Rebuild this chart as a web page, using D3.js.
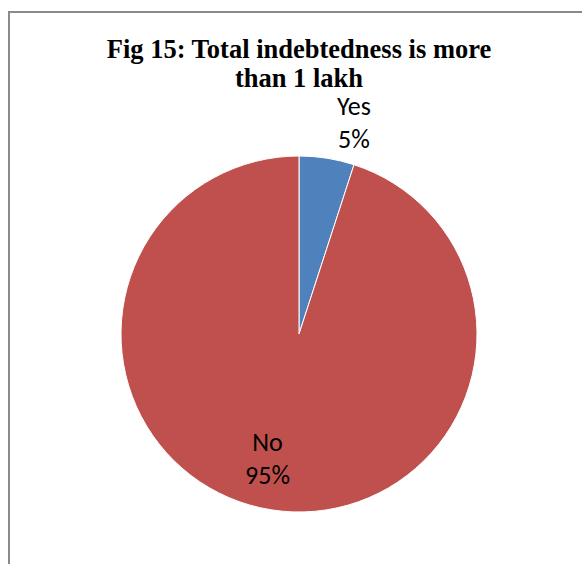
<!DOCTYPE html>
<html>
<head>
<meta charset="utf-8">
<script src="https://cdn.jsdelivr.net/npm/d3@7"></script>
<style>
html,body{margin:0;padding:0;background:#fff;}
svg{display:block;}
</style>
</head>
<body>
<svg id="chart" width="582" height="564"></svg>
<script>
const categories = ["Yes", "No"];
const values = [5, 95];
const percentLabels = ["5%", "95%"];
const colors = ["#4F81BD", "#C0504D"];
const titleLines = ["Fig 15: Total indebtedness is more", "than 1 lakh"];

const svg = d3.select("#chart");
const W = 582, H = 564;

// chart area frame (left and top edges visible)
svg.append("path")
  .attr("d", `M9,${H} L9,12 L${W},12`)
  .attr("fill", "none")
  .attr("stroke", "#8a8a8a")
  .attr("stroke-width", 2);

// title
const title = svg.append("text")
  .attr("text-anchor", "middle")
  .attr("font-family", "'Liberation Serif','Times New Roman',serif")
  .attr("font-weight", "bold")
  .attr("font-size", 26.5)
  .attr("fill", "#000");
titleLines.forEach((t, i) => {
  title.append("tspan").attr("x", 299).attr("y", 58 + i * 29).text(t);
});

const cx = 299, cy = 334, r = 178;
const data = categories.map((c, i) => ({cat: c, value: values[i], pct: percentLabels[i], color: colors[i]}));
const pie = d3.pie().sort(null).value(d => d.value);
const arcs = pie(data);
const arc = d3.arc().innerRadius(0).outerRadius(r);

const g = svg.append("g").attr("transform", `translate(${cx},${cy})`);
g.selectAll("path.slice")
  .data(arcs)
  .enter().append("path")
  .attr("class", "slice")
  .attr("d", arc)
  .attr("fill", d => d.data.color)
  .attr("stroke", "#fff")
  .attr("stroke-width", 1);

// label anchors
function labelPos(a, i) {
  if (i === 0) {
    // outside, above the end of the small slice
    return [Math.sin(a.endAngle) * r, -r - 41];
  }
  // inside, lower part of the large slice
  const c = d3.arc().innerRadius(r * 0.7).outerRadius(r * 0.7).centroid(a);
  return [c[0] - 12, c[1] - 6];
}

arcs.forEach((a, i) => {
  const [x, y] = labelPos(a, i);
  const t = g.append("text")
    .attr("text-anchor", "middle")
    .attr("font-family", "Carlito, Calibri, 'Open Sans', sans-serif")
    .attr("font-size", 26)
    .attr("fill", "#000");
  t.append("tspan").attr("x", x).attr("y", y).text(a.data.cat);
  t.append("tspan").attr("x", x).attr("y", y + 33).text(a.data.pct);
});
</script>
</body>
</html>
